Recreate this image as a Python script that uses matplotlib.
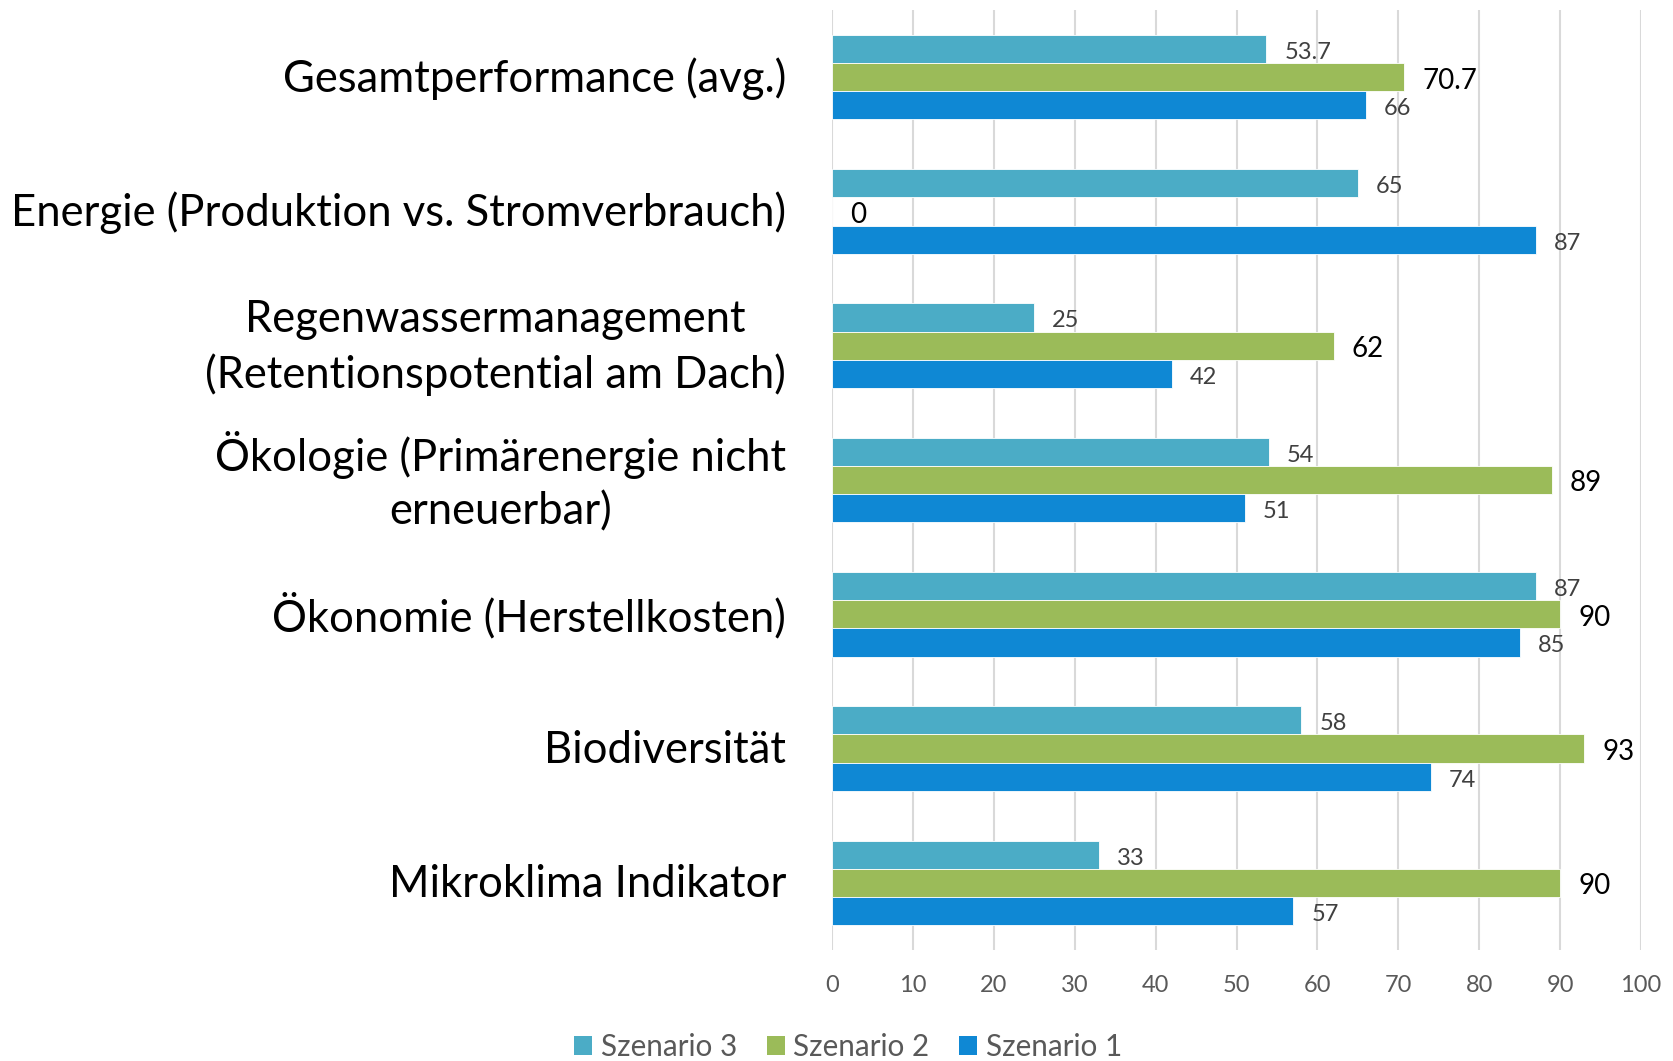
import matplotlib
matplotlib.use("Agg")
import matplotlib.pyplot as plt
import matplotlib.transforms as mtransforms
import numpy as np
from matplotlib.patches import Patch

# Indicator scores per scenario
categories = [
    "Gesamtperformance (avg.)",
    "Energie (Produktion vs. Stromverbrauch)",
    "Regenwassermanagement\n(Retentionspotential am Dach)",
    "Ökologie (Primärenergie nicht\nerneuerbar)",
    "Ökonomie (Herstellkosten)",
    "Biodiversität",
    "Mikroklima Indikator",
]
szenario_1 = [66, 87, 42, 51, 85, 74, 57]
szenario_2 = [70.7, 0, 62, 89, 90, 93, 90]
szenario_3 = [53.7, 65, 25, 54, 87, 58, 33]

x_ticks = list(range(0, 101, 10))

C_S1 = "#0F88D4"
C_S2 = "#9BBB59"
C_S3 = "#4BACC6"
GRAY_TXT = "#595959"
FONT = ["Lato", "DejaVu Sans"]

plt.rcParams["font.family"] = FONT

fig = plt.figure(figsize=(16.73, 10.61), dpi=100)
ax = fig.add_axes([0.4973, 0.1046, 0.9809 - 0.4973, 0.9906 - 0.1046])

y = np.arange(len(categories))
h = 0.21

series = [
    (szenario_3, C_S3, -h, "Szenario 3", "#404040", 17),
    (szenario_2, C_S2, 0.0, "Szenario 2", "black", 20),
    (szenario_1, C_S1, h, "Szenario 1", "#404040", 17),
]

for vals, color, off, name, tcol, fs in series:
    bars = ax.barh(y + off, vals, height=h, color=color,
                   edgecolor="white", linewidth=0.6, zorder=3)
    for bar, v in zip(bars, vals):
        label = f"{v:g}"
        ax.annotate(label, (bar.get_width(), bar.get_y() + bar.get_height() / 2),
                    xytext=(13, -2.5), textcoords="offset points",
                    ha="left", va="center", fontsize=fs, color=tcol)

ax.set_xlim(0, 100)
ax.set_ylim(len(categories) - 0.5, -0.5)
ax.set_xticks(x_ticks)
ax.set_xticklabels([str(t) for t in x_ticks], fontsize=17, color=GRAY_TXT)
ax.set_yticks(y)
ax.set_yticklabels([])

# category labels drawn as text, right-aligned next to the plot area
label_tf = ax.get_yaxis_transform() + mtransforms.ScaledTranslation(
    -33 / 72, -1.2 / 72, fig.dpi_scale_trans)
for yi, cat in zip(y, categories):
    ax.text(0, yi, cat, transform=label_tf, ha="right", va="center",
            multialignment="center", linespacing=1.37, fontsize=31.4,
            color="black")

ax.tick_params(axis="x", length=0, pad=18)
ax.tick_params(axis="y", length=0)
for s in ax.spines.values():
    s.set_visible(False)
ax.grid(axis="x", color="#D9D9D9", linewidth=1.5, zorder=0)
ax.set_axisbelow(True)

handles = [Patch(facecolor=C_S3, label="Szenario 3"),
           Patch(facecolor=C_S2, label="Szenario 2"),
           Patch(facecolor=C_S1, label="Szenario 1")]
leg = fig.legend(handles=handles, loc="center", bbox_to_anchor=(0.507, 0.0135),
                 ncol=3, frameon=False, fontsize=21.3, handlelength=0.6,
                 handleheight=0.6, handletextpad=0.3, columnspacing=1.0)
for t in leg.get_texts():
    t.set_color(GRAY_TXT)

fig.savefig("out.png", dpi=100)
